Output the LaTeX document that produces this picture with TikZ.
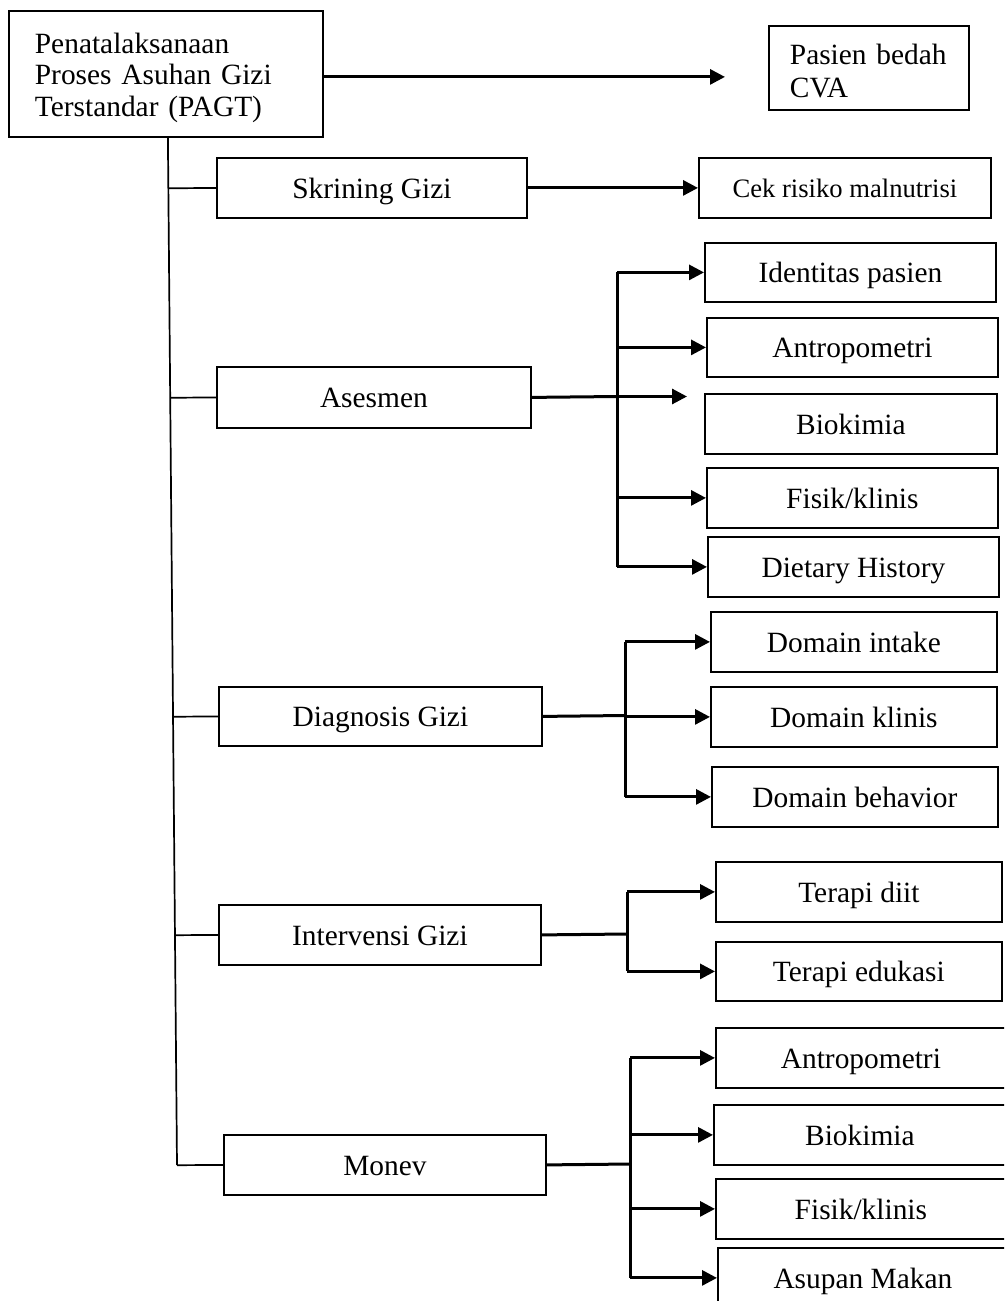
\documentclass[tikz,border=0pt]{standalone}
\usepackage{fontspec}
\setmainfont{Liberation Serif}
\usetikzlibrary{arrows.meta,calc}
\begin{document}
\begin{tikzpicture}[x=1pt,y=-1pt,
  box/.style={draw, line width=1.8pt, inner sep=0pt, anchor=north west,
    font=\fontsize{29.4}{31.5}\selectfont, text height=27.3pt, text depth=6.5pt},
  multibox/.style={draw, line width=1.8pt, anchor=north west, align=left},
  conn/.style={line width=3pt},
  arr/.style={conn, -{Triangle[length=15pt,width=15pt]}},
  trunkline/.style={line width=1.7pt}]
\useasboundingbox (0,0) rectangle (1004,1301);
\clip (0,0) rectangle (1004,1301);
% main and top
\node[multibox, minimum width=314pt, minimum height=126pt, text width=262pt, inner xsep=26pt, inner ysep=0pt,
  font=\fontsize{29.4}{31.5}\selectfont] (main) at (8,10)
  {\rule{0pt}{28pt}Penatalaksanaan\\Proses Asuhan Gizi\\Terstandar (PAGT)};
\node[multibox, minimum width=200pt, minimum height=84pt, text width=158pt, inner xsep=21pt, inner ysep=0pt,
  font=\fontsize{29.4}{33}\selectfont] (pasien) at (768,25)
  {\rule{0pt}{27pt}Pasien bedah\\CVA};
% level 1
\node[box, minimum width=310pt, minimum height=60pt] (skrining) at (216,157) {Skrining Gizi};
\node[box, minimum width=314pt, minimum height=61pt] (asesmen) at (216,366) {Asesmen};
\node[box, minimum width=323pt, minimum height=59pt] (diagnosis) at (218,686) {Diagnosis Gizi};
\node[box, minimum width=322pt, minimum height=60pt] (intervensi) at (218,904) {Intervensi Gizi};
\node[box, minimum width=322pt, minimum height=60pt] (monev) at (223,1134) {Monev};
% level 2
\node[box, minimum width=292pt, minimum height=60pt, font=\fontsize{26.6}{30}\selectfont,
  text height=24.7pt, text depth=5.9pt] (cek) at (698,157) {Cek risiko malnutrisi};
\node[box, minimum width=291pt, minimum height=59pt] (identitas) at (704,242) {Identitas pasien};
\node[box, minimum width=291pt, minimum height=59pt] (antropA) at (706,317) {Antropometri};
\node[box, minimum width=292pt, minimum height=60pt] (biokimiaA) at (704,393) {Biokimia};
\node[box, minimum width=291pt, minimum height=60pt] (fisikA) at (706,467) {Fisik/klinis};
\node[box, minimum width=291pt, minimum height=60pt] (dietary) at (707,536) {Dietary History};
\node[box, minimum width=286pt, minimum height=60pt] (dintake) at (710,611) {Domain intake};
\node[box, minimum width=286pt, minimum height=60pt] (dklinis) at (710,686) {Domain klinis};
\node[box, minimum width=286pt, minimum height=60pt] (dbehavior) at (711,766) {Domain behavior};
\node[box, minimum width=286pt, minimum height=60pt] (tdiit) at (715,861) {Terapi diit};
\node[box, minimum width=286pt, minimum height=59pt] (tedukasi) at (715,941) {Terapi edukasi};
\node[box, minimum width=290pt, minimum height=60pt] (antropB) at (715,1027) {Antropometri};
\node[box, minimum width=292pt, minimum height=60pt] (biokimiaB) at (713,1104) {Biokimia};
\node[box, minimum width=290pt, minimum height=60pt] (fisikB) at (715,1178) {Fisik/klinis};
\node[box, minimum width=290pt, minimum height=60pt] (asupan) at (717,1247) {Asupan Makan};
% main -> pasien
\coordinate (mA) at ([yshift=-3pt]main.east);
\coordinate (pA) at ([xshift=-43pt]pasien.west);
\draw[arr] (mA) -- (mA -| pA);
% trunk
\coordinate (ttop) at ([xshift=2pt]main.south);
\coordinate (tbot) at (177,1165);
\draw[trunkline] (ttop) -- (tbot);
\foreach \n in {skrining,asesmen,diagnosis,intervensi,monev}
  \draw[trunkline] ($(ttop)!(\n.west)!(tbot)$) -- (\n.west);
% skrining
\draw[arr] (skrining.east) -- (cek.west);
% asesmen
\coordinate (aJ) at (617,396.5);
\draw[conn] (asesmen.east) -- (aJ);
\draw[arr] (aJ) -- ++(70,0);
\draw[conn] (aJ |- identitas.west) -- (aJ |- dietary.west);
\foreach \n in {identitas,antropA,fisikA,dietary}
  \draw[arr] (aJ |- \n.west) -- (\n.west);
% diagnosis
\coordinate (dJ) at (625,715.5);
\draw[conn] (diagnosis.east) -- (dJ);
\draw[conn] (dJ |- dintake.west) -- (dJ |- dbehavior.west);
\foreach \n in {dintake,dklinis,dbehavior}
  \draw[arr] (dJ |- \n.west) -- (\n.west);
% intervensi
\coordinate (iJ) at (627,934);
\draw[conn] (intervensi.east) -- (iJ);
\draw[conn] (iJ |- tdiit.west) -- (iJ |- tedukasi.west);
\foreach \n in {tdiit,tedukasi}
  \draw[arr] (iJ |- \n.west) -- (\n.west);
% monev
\coordinate (mJ) at (630,1164);
\draw[conn] (monev.east) -- (mJ);
\draw[conn] (mJ |- antropB.west) -- (mJ |- asupan.west);
\foreach \n in {antropB,biokimiaB,fisikB,asupan}
  \draw[arr] (mJ |- \n.west) -- (\n.west);
\end{tikzpicture}
\end{document}
